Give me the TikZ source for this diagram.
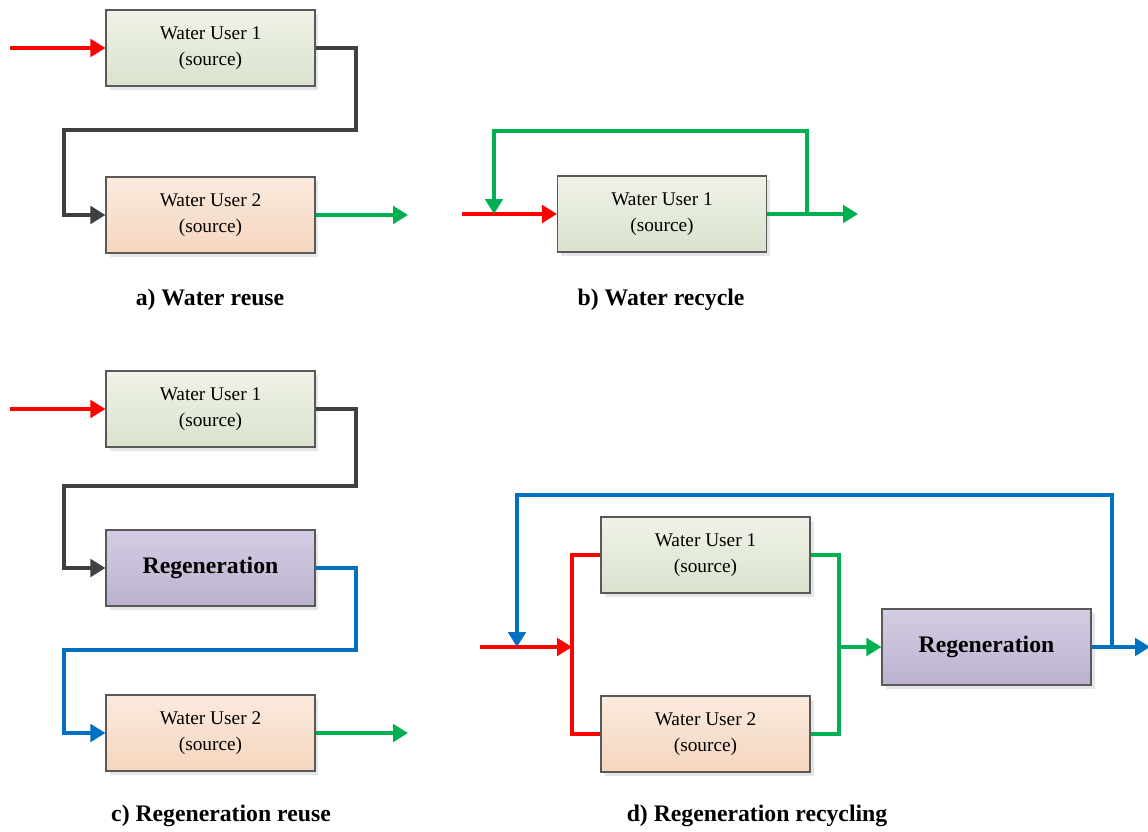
\documentclass[tikz,border=0pt]{standalone}
\usepackage{fontspec}
\setmainfont{Liberation Serif}
\usetikzlibrary{arrows.meta,shadows}

\definecolor{redflow}{RGB}{255,0,0}
\definecolor{greenflow}{RGB}{0,176,80}
\definecolor{blueflow}{RGB}{0,112,192}
\definecolor{darkflow}{RGB}{64,64,64}
\definecolor{usergreentop}{RGB}{239,243,232}
\definecolor{usergreenbot}{RGB}{218,226,205}
\definecolor{userpeachtop}{RGB}{251,234,222}
\definecolor{userpeachbot}{RGB}{245,214,190}
\definecolor{regentop}{RGB}{212,204,226}
\definecolor{regenbot}{RGB}{188,178,208}

\begin{document}
\begin{tikzpicture}[x=0.02cm, y=-0.02cm,
    unit/.style={rectangle, draw=black!65, line width=0.7pt, minimum width=4.18cm, minimum height=1.52cm,
        inner sep=0pt, align=center, font=\fontsize{11}{14.5}\selectfont,
        drop shadow={shadow xshift=2pt, shadow yshift=-2pt, opacity=0.2, fill=black!50}},
    user1/.style={unit, top color=usergreentop, bottom color=usergreenbot},
    user2/.style={unit, top color=userpeachtop, bottom color=userpeachbot},
    regen/.style={unit, top color=regentop, bottom color=regenbot,
        font=\fontsize{13.5}{15}\selectfont\bfseries},
    flow/.style={line width=1.8pt, -{Triangle[length=8.5pt,width=10pt]}},
    pipe/.style={line width=1.8pt},
    caption/.style={font=\fontsize{13.5}{16}\selectfont\bfseries}]
\useasboundingbox (0,0) rectangle (1148,831);

\node[user1] (A1) at (210.5,48) {Water User 1\\(source)};
\node[user2] (A2) at (210.5,215) {Water User 2\\(source)};
\node[caption] (la) at (210,300) {a) Water reuse};
\coordinate (ina) at (10,48);
\coordinate (outa) at (408,215);
\draw[flow, redflow] (ina) -- (A1.west);
\draw[flow, darkflow] (A1.east) -| (356,130) -| (64,215) -- (A2.west);
\draw[flow, greenflow] (A2.east) -- (outa);

\node[user1] (B1) at (662,214) {Water User 1\\(source)};
\node[caption] (lb) at (661,300) {b) Water recycle};
\coordinate (inb) at (462,214);
\coordinate (outb) at (858,214);
\coordinate (splitb) at (807,214);
\coordinate (mergeb) at (494,214);
\draw[flow, redflow] (inb) -- (B1.west);
\draw[flow, greenflow] (B1.east) -- (outb);
\draw[flow, greenflow] (splitb) -- ++(0,-83) -| (mergeb);

\node[user1] (C1) at (210.5,409) {Water User 1\\(source)};
\node[regen] (C2) at (210.5,568) {Regeneration};
\node[user2] (C3) at (210.5,733) {Water User 2\\(source)};
\node[caption] (lc) at (221,816) {c) Regeneration reuse};
\coordinate (inc) at (10,409);
\coordinate (outc) at (408,733);
\draw[flow, redflow] (inc) -- (C1.west);
\draw[flow, darkflow] (C1.east) -| (356,486) -| (64,568) -- (C2.west);
\draw[flow, blueflow] (C2.east) -| (356,650) -| (64,733) -- (C3.west);
\draw[flow, greenflow] (C3.east) -- (outc);

\node[user1] (D1) at (705.5,555) {Water User 1\\(source)};
\node[user2] (D2) at (705.5,734) {Water User 2\\(source)};
\node[regen] (D3) at (986.5,647) {Regeneration};
\node[caption] (ld) at (757,816) {d) Regeneration recycling};
\coordinate (ind) at (480,647);
\coordinate (splitd) at (572,647);
\coordinate (joind) at (839,647);
\coordinate (outd) at (1150,647);
\coordinate (loopd) at (1112,647);
\coordinate (mergerd) at (517,647);
\draw[flow, redflow] (ind) -- (splitd);
\draw[pipe, redflow] (D1.west) -| (splitd) |- (D2.west);
\draw[pipe, greenflow] (D1.east) -| (joind) |- (D2.east);
\draw[flow, greenflow] (joind) -- (D3.west);
\draw[flow, blueflow] (D3.east) -- (outd);
\draw[flow, blueflow] (loopd) -- ++(0,-152) -| (mergerd);
\end{tikzpicture}
\end{document}
